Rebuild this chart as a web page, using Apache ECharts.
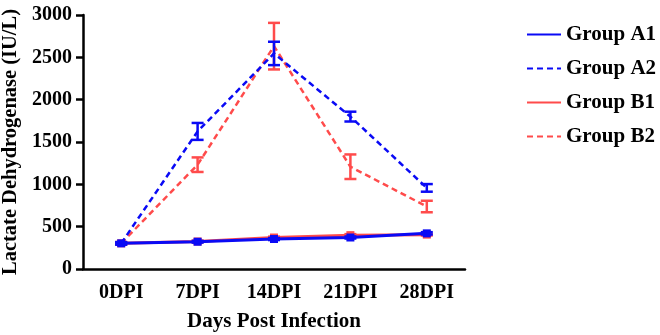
<!DOCTYPE html>
<html>
<head>
<meta charset="utf-8">
<script src="https://cdn.jsdelivr.net/npm/echarts@6/dist/echarts.min.js"></script>
<style>
  html, body { margin: 0; padding: 0; background: #fff; }
  #chart { width: 660px; height: 335px; }
</style>
</head>
<body>
<div id="chart"></div>
<script>
// 横轴分类
const days = ['0DPI', '7DPI', '14DPI', '21DPI', '28DPI'];

// 各组均值 (IU/L)
const groupA1 = [303, 322, 354, 372, 421];
const groupA2 = [303, 1625, 2546, 1800, 958];
const groupB1 = [303, 325, 372, 400, 406];
const groupB2 = [303, 1232, 2632, 1208, 738];

// 误差 (±)
const errA1 = [12, 10, 12, 12, 14];
const errA2 = [15, 100, 138, 58, 45];
const errB1 = [10, 10, 10, 12, 10];
const errB2 = [15, 86, 275, 145, 68];

const BLUE = '#0a0af5';
const RED = '#ff4b4b';
const FONT = 'Liberation Serif';

const chart = echarts.init(document.getElementById('chart'));

// 误差棒 + 方块标记（自定义系列）
function errSeries(mean, err, color, square, z) {
  return {
    type: 'custom',
    z: z,
    silent: true,
    data: mean.map((m, i) => [i, m - err[i], m + err[i], m]),
    encode: { x: 0, y: [1, 2] },
    renderItem: function (params, api) {
      const i = api.value(0);
      const lo = api.coord([i, api.value(1)]);
      const hi = api.coord([i, api.value(2)]);
      const mid = api.coord([i, api.value(3)]);
      const w = 6;
      const style = { stroke: color, lineWidth: 2.5, fill: null };
      const children = [
        { type: 'line', shape: { x1: lo[0], y1: lo[1], x2: hi[0], y2: hi[1] }, style },
        { type: 'line', shape: { x1: lo[0] - w, y1: lo[1], x2: lo[0] + w, y2: lo[1] }, style },
        { type: 'line', shape: { x1: hi[0] - w, y1: hi[1], x2: hi[0] + w, y2: hi[1] }, style },
      ];
      if (square) {
        children.push({
          type: 'rect',
          shape: { x: mid[0] - 4, y: mid[1] - 4, width: 8, height: 8 },
          style: { fill: color },
        });
      }
      return { type: 'group', children };
    },
  };
}

function lineSeries(name, data, color, dashed, z) {
  return {
    name: name,
    type: 'line',
    z: z,
    data: data,
    symbol: 'none',
    lineStyle: { color: color, width: dashed ? 2.5 : 3, type: dashed ? [6, 4] : 'solid' },
    itemStyle: { color: color },
  };
}

chart.setOption({
  animation: false,
  grid: { left: 83, top: 15, right: 195, bottom: 66, outerBoundsMode: 'none' },
  legend: {
    data: ['Group A1', 'Group A2', 'Group B1', 'Group B2'],
    orient: 'vertical',
    left: 521,
    top: 19,
    itemWidth: 34,
    itemHeight: 14,
    itemGap: 13,
    itemStyle: { opacity: 0, borderWidth: 0 },
    textStyle: { fontFamily: FONT, fontWeight: 'bold', fontSize: 21, color: '#000' },
  },
  xAxis: {
    type: 'category',
    data: days,
    boundaryGap: true,
    name: 'Days Post Infection',
    nameLocation: 'middle',
    nameGap: 42,
    nameTextStyle: { fontFamily: FONT, fontWeight: 'bold', fontSize: 21, color: '#000' },
    axisLine: { lineStyle: { color: '#000', width: 2.5 } },
    axisTick: { alignWithLabel: true, length: 7, lineStyle: { color: '#000', width: 2.5 } },
    axisLabel: { fontFamily: FONT, fontWeight: 'bold', fontSize: 20, color: '#000', margin: 14 },
  },
  yAxis: {
    type: 'value',
    min: 0,
    max: 3000,
    interval: 500,
    name: 'Lactate Dehydrogenase (IU/L)',
    nameLocation: 'middle',
    nameGap: 57,
    nameTextStyle: { fontFamily: FONT, fontWeight: 'bold', fontSize: 20.5, color: '#000' },
    axisLine: { show: true, lineStyle: { color: '#000', width: 2.5 } },
    axisTick: { show: true, length: 7, lineStyle: { color: '#000', width: 2.5 } },
    axisLabel: {
      fontFamily: FONT, fontWeight: 'bold', fontSize: 20, color: '#000', margin: 11,
      formatter: (v) => String(v),
    },
    splitLine: { show: false },
  },
  series: [
    lineSeries('Group B1', groupB1, RED, false, 2),
    lineSeries('Group B2', groupB2, RED, true, 2),
    lineSeries('Group A1', groupA1, BLUE, false, 3),
    lineSeries('Group A2', groupA2, BLUE, true, 3),
    errSeries(groupB1, errB1, RED, true, 2),
    errSeries(groupB2, errB2, RED, false, 2),
    errSeries(groupA1, errA1, BLUE, true, 3),
    errSeries(groupA2, errA2, BLUE, false, 3),
  ],
});
</script>
</body>
</html>
